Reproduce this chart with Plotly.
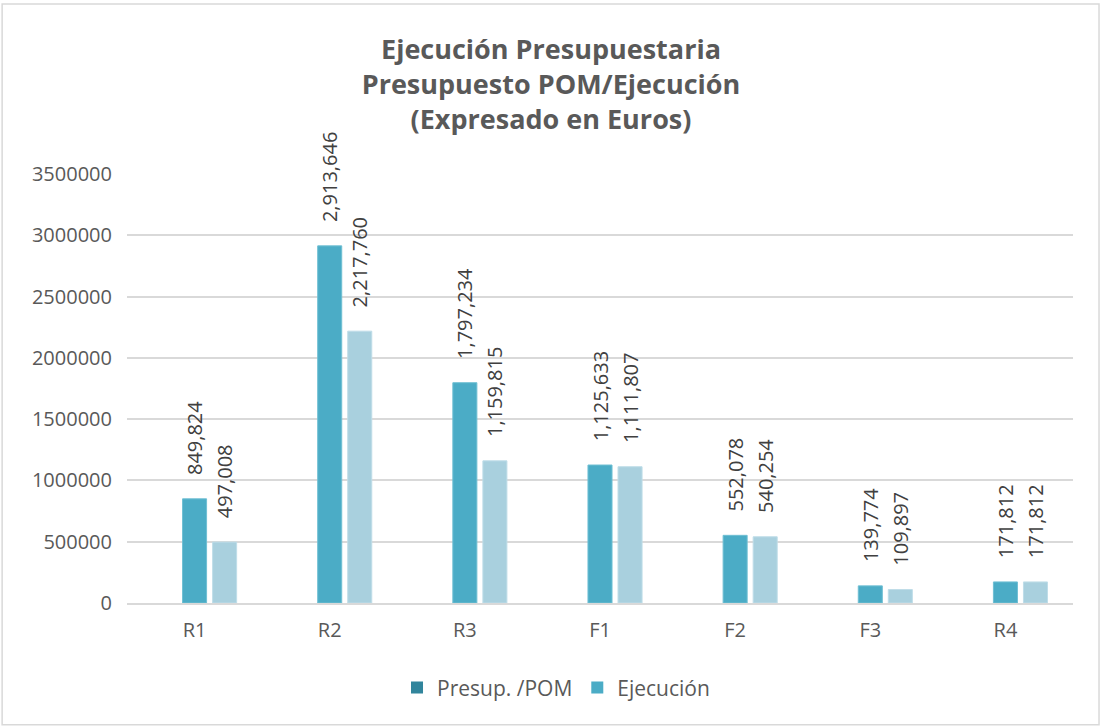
import plotly.graph_objects as go

# categories and series values
categorias = ["R1", "R2", "R3", "F1", "F2", "F3", "R4"]
presupuesto_pom = [849824, 2913646, 1797234, 1125633, 552078, 139774, 171812]
ejecucion = [497008, 2217760, 1159815, 1111807, 540254, 109897, 171812]
vacio = [None] * len(categorias)  # empty first series slot in the original chart

y_ticks = [0, 500000, 1000000, 1500000, 2000000, 2500000, 3000000, 3500000]

FONT = "Open Sans"
GRIS = "#595959"


def main():
    fig = go.Figure()

    # hidden empty series (keeps the bar offset of the original)
    fig.add_trace(go.Bar(x=categorias, y=vacio, showlegend=False,
                         marker_color="#31859C", hoverinfo="skip"))

    etiqueta = dict(size=20, color="#404040", family=FONT)
    fig.add_trace(go.Bar(
        x=categorias, y=presupuesto_pom, name="Presup. /POM",
        marker=dict(color="#4BACC6", line=dict(color="#6FBFD3", width=1)),
        texttemplate="\u00a0\u00a0\u00a0\u00a0%{y:,}", textposition="outside",
        textangle=-90, textfont=etiqueta, constraintext="none",
        cliponaxis=False, showlegend=False,
    ))
    fig.add_trace(go.Bar(
        x=categorias, y=ejecucion, name="Ejecución",
        marker=dict(color="#A9D0DE", line=dict(color="#BFDDE8", width=1)),
        texttemplate="\u00a0\u00a0\u00a0\u00a0%{y:,}", textposition="outside",
        textangle=-90, textfont=etiqueta, constraintext="none",
        cliponaxis=False, showlegend=False,
    ))

    # legend entries (colours as shown in the original legend)
    for nombre, color in [("Presup. /POM", "#31859C"), ("Ejecución", "#4BACC6")]:
        fig.add_trace(go.Scatter(x=[None], y=[None], mode="markers", name=nombre,
                                 marker=dict(symbol="square", size=15, color=color)))

    fig.update_layout(
        width=1102, height=727,
        paper_bgcolor="white", plot_bgcolor="white",
        margin=dict(l=127, r=29, t=174, b=124),
        barmode="group", bargap=0.333, bargroupgap=0.2,
        font=dict(family=FONT, size=20, color=GRIS),
        title=dict(
            text="Ejecución Presupuestaria<br>Presupuesto POM/Ejecución<br>(Expresado en Euros)",
            x=0.5, xanchor="center", y=0.919, yanchor="top",
            font=dict(family=FONT, size=27, color=GRIS, weight="bold"),
        ),
        legend=dict(orientation="h", x=0.4535, xanchor="center", y=-0.15, yanchor="top",
                    font=dict(size=21, color=GRIS), itemsizing="constant", itemwidth=30),
        showlegend=True,
        shapes=[dict(type="rect", xref="paper", yref="paper",
                     x0=-0.132, x1=1.0275, y0=-0.284, y1=1.396,
                     line=dict(color="#D9D9D9", width=1.5), layer="below")],
    )
    fig.update_xaxes(showgrid=False, showline=True, linecolor="#D9D9D9", linewidth=2,
                     ticks="", tickfont=dict(size=20, color=GRIS), ticklabelstandoff=8)
    fig.update_yaxes(range=[0, 3500000], tickvals=y_ticks, ticktext=[str(v) for v in y_ticks],
                     showgrid=True, gridcolor="#D9D9D9", gridwidth=1.5, zeroline=False,
                     showline=False, tickfont=dict(size=20, color=GRIS), ticklabelstandoff=14)

    # remove the default page margin so the figure sits at the window origin
    fig.write_html("out.html", config={"displayModeBar": False},
                   post_script="document.body.style.margin='0';")
    return fig


if __name__ == "__main__":
    main()
